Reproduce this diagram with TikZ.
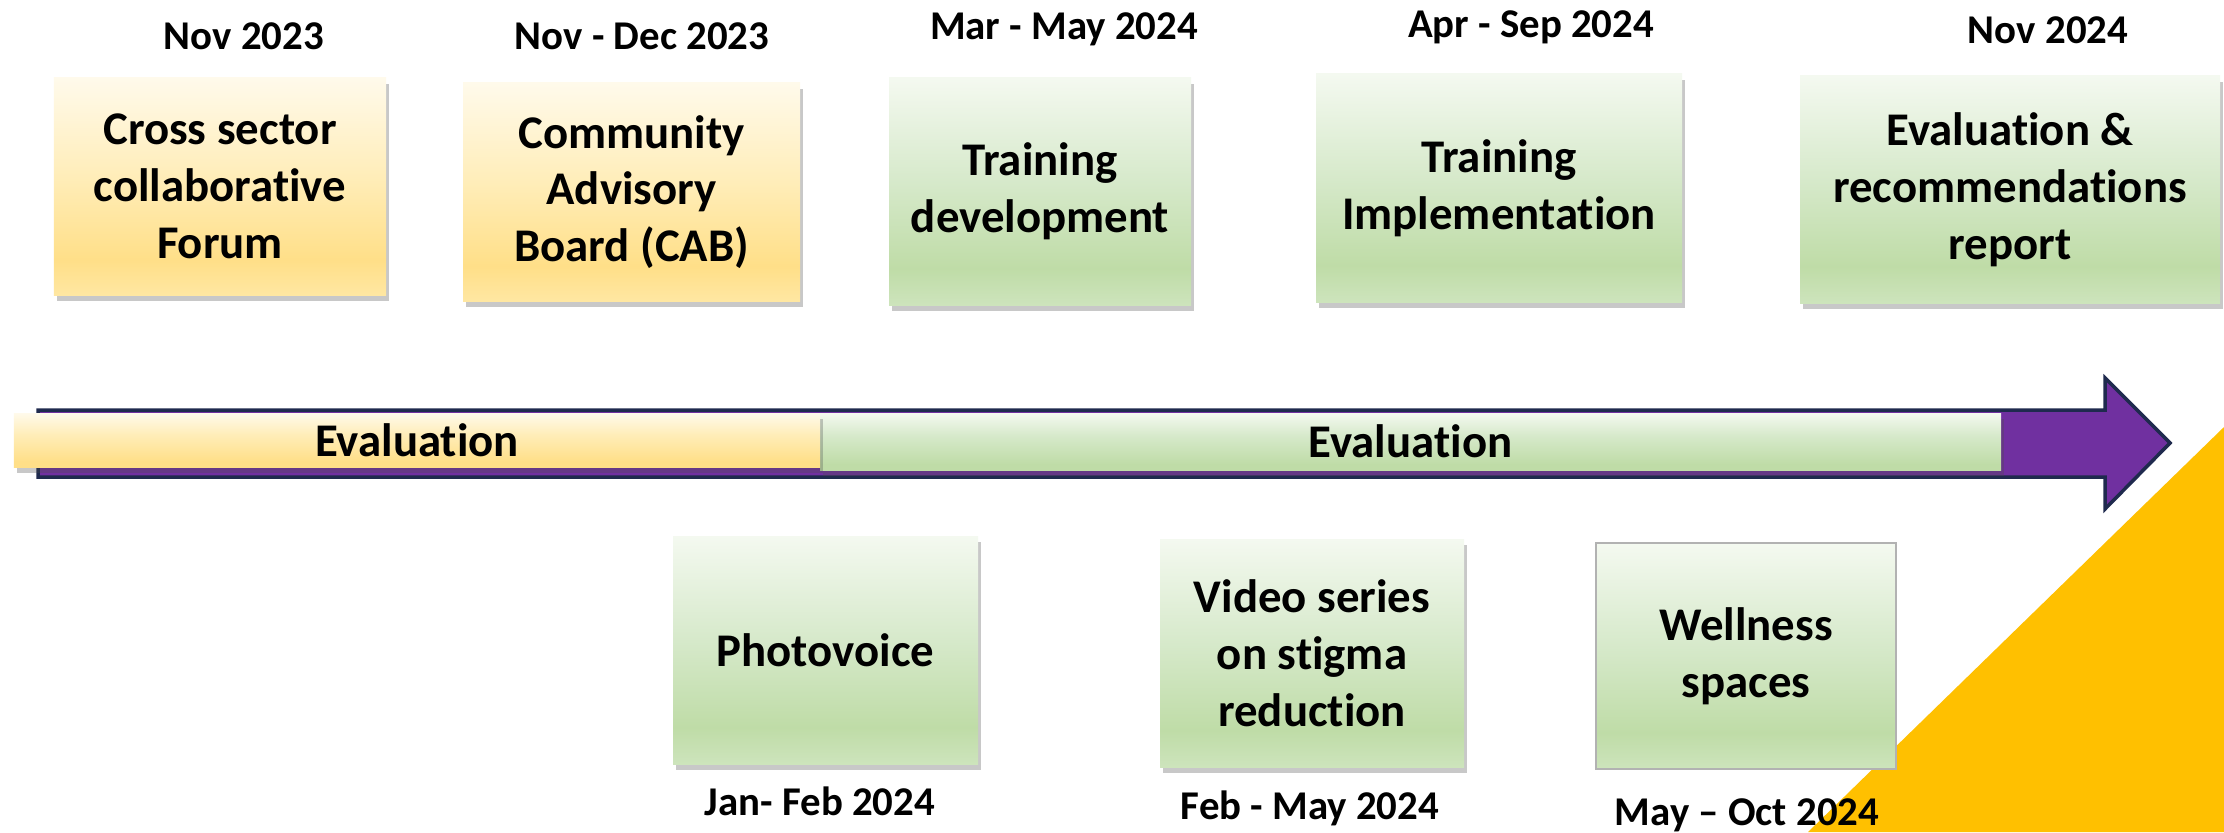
\documentclass[tikz,border=0pt]{standalone}
\usepackage{fontspec}
\setmainfont{Carlito}[RawFeature={-liga;-clig;-calt;-dlig}]
\usetikzlibrary{shadows}
\definecolor{gtop}{HTML}{F4F9F0}
\definecolor{gmid}{HTML}{D6E9CA}
\definecolor{gdeep}{HTML}{BFDCA7}
\definecolor{gbot}{HTML}{CDE4BC}
\definecolor{ytop}{HTML}{FFFAEB}
\definecolor{ymid}{HTML}{FFEDB8}
\definecolor{ydeep}{HTML}{FFDF88}
\definecolor{ybot}{HTML}{FFE7A2}
\definecolor{arrowfill}{HTML}{7030A0}
\definecolor{arrowline}{HTML}{1F2A4E}
\definecolor{triyellow}{HTML}{FFC000}
\pgfdeclareverticalshading{greenbox}{100bp}{color(0bp)=(gbot); color(25bp)=(gbot); color(33bp)=(gdeep); color(52bp)=(gmid); color(75bp)=(gtop); color(100bp)=(gtop)}
\pgfdeclareverticalshading{yellowbox}{100bp}{color(0bp)=(ybot); color(25bp)=(ybot); color(33bp)=(ydeep); color(52bp)=(ymid); color(75bp)=(ytop); color(100bp)=(ytop)}
\pgfdeclareverticalshading{greenbar}{100bp}{color(0bp)=(gdeep); color(30bp)=(gdeep); color(55bp)=(gmid); color(75bp)=(gtop); color(100bp)=(gtop)}
\pgfdeclareverticalshading{yellowbar}{100bp}{color(0bp)=(ydeep); color(30bp)=(ydeep); color(55bp)=(ymid); color(75bp)=(ytop); color(100bp)=(ytop)}
\tikzset{
  boxfont/.style={font=\fontsize{47}{57}\selectfont\bfseries, align=center},
  datefont/.style={font=\fontsize{41}{49}\selectfont\bfseries, anchor=base},
  softshadow/.style={drop shadow={shadow xshift=3bp, shadow yshift=-6bp, fill=black!70, opacity=0.3}},
  gbox/.style={shading=greenbox, draw=none, inner sep=0pt, boxfont, softshadow},
  ybox/.style={shading=yellowbox, draw=none, inner sep=0pt, boxfont, softshadow},
  gbarstyle/.style={shading=greenbar, draw=none, inner sep=0pt, boxfont, softshadow},
  ybarstyle/.style={shading=yellowbar, draw=none, inner sep=0pt, boxfont, softshadow},
}
\begin{document}
\begin{tikzpicture}[x=1bp, y=-1bp]
\useasboundingbox (0,0) rectangle (2224,832);
\fill[white] (0,0) rectangle (2224,832);
% corner triangle
\fill[triyellow] (1808,832) -- (2224,427) -- (2224,832) -- cycle;
% timeline arrow
\draw[draw=arrowline, fill=arrowfill, line width=3.5bp, line join=miter]
  (38,410) -- (2105,410) -- (2105,378) -- (2170,443) -- (2105,509) -- (2105,477) -- (38,477) -- cycle;
% evaluation bars
\node[gbarstyle, minimum width=1181bp, minimum height=57bp] (evg) at (1410.5,441.5) {Evaluation};
\node[ybarstyle, minimum width=806bp, minimum height=54bp] (evy) at (417,440) {Evaluation};
% top boxes
\node[ybox, minimum width=332bp, minimum height=217bp] (b1) at (220,186.5) {Cross sector\\collaborative\\Forum};
\node[ybox, minimum width=337bp, minimum height=218bp] (b2) at (631.5,192) {Community\\Advisory\\Board (CAB)};
\node[gbox, minimum width=302bp, minimum height=227bp] (b3) at (1040,191.5) {Training\\development};
\node[gbox, minimum width=366bp, minimum height=228bp] (b4) at (1499,188) {Training\\Implementation};
\node[gbox, minimum width=420bp, minimum height=227bp] (b5) at (2010,189.5) {Evaluation \&\\recommendations\\report};
% bottom boxes
\node[gbox, minimum width=305bp, minimum height=228bp] (c1) at (825.5,650) {Photovoice};
\node[gbox, minimum width=304bp, minimum height=228bp] (c2) at (1312,653) {Video series\\on stigma\\reduction};
\node[shading=greenbox, draw=black!30, line width=1.5bp, inner sep=0pt, boxfont, minimum width=300bp, minimum height=226bp] (c3) at (1746,656) {Wellness\\spaces};
% dates
\node[datefont] (d1) at (244,49) {Nov 2023};
\node[datefont] (d2) at (642,49) {Nov - Dec 2023};
\node[datefont] (d3) at (1064,39) {Mar - May 2024};
\node[datefont] (d4) at (1531,37) {Apr - Sep 2024};
\node[datefont] (d5) at (2048,43) {Nov 2024};
\node[datefont] (e1) at (820,815) {Jan- Feb 2024};
\node[datefont] (e2) at (1310,819) {Feb - May 2024};
\node[datefont] (e3) at (1747,825) {May – Oct 2024};
\end{tikzpicture}
\end{document}
